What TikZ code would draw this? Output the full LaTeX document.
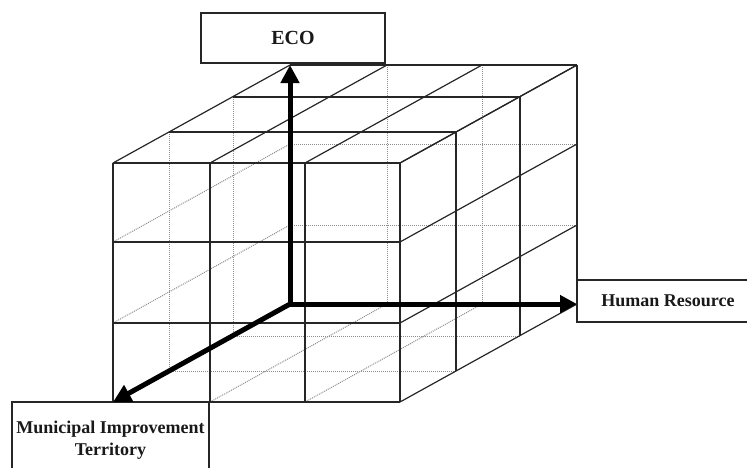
\documentclass[tikz,border=0pt]{standalone}
\usepackage{fontspec}
\setmainfont{Liberation Serif}
\usetikzlibrary{arrows.meta}
\begin{document}
\begin{tikzpicture}[x=1pt,y=-1pt,
  edge/.style={draw=black!85,line width=1.2pt},
  hidden/.style={draw=black!45,line width=1pt,densely dotted},
  axisline/.style={draw=black,line width=5pt,line join=miter},
  tip/.style={Triangle[length=18pt,width=18pt]},
  box/.style={draw=black!85,line width=1.2pt,fill=white,inner sep=0pt,text=black!90}]
\useasboundingbox (0,0) rectangle (747,467);
\clip (0,0) rectangle (747,467);
% lattice points p<i><j><k>: column i, row j (from top), depth k
\foreach \i/\xx in {0/113,1/210,2/305,3/400}{
  \foreach \j/\yy in {0/163,1/242,2/323,3/402}{
    \foreach \k/\dx/\dy in {0/0/0,1/56/-31,2/120/-66,3/177/-98}{
      \coordinate (p\i\j\k) at (\xx+\dx,\yy+\dy);
    }}}
% hidden lines
\foreach \k in {1,2} \draw[hidden] (p00\k) -- (p03\k);
\foreach \j in {1,2} \draw[hidden] (p0\j0) -- (p0\j3);
\foreach \i in {1,2} \draw[hidden] (p\i03) -- (p\i33);
\foreach \j in {1,2} \draw[hidden] (p0\j3) -- (p3\j3);
\foreach \i in {1,2} \draw[hidden] (p\i30) -- (p\i33);
\foreach \k in {1,2} \draw[hidden] (p03\k) -- (p33\k);
% visible lines
\foreach \i in {0,...,3} \draw[edge] (p\i00) -- (p\i30);
\foreach \j in {0,...,3} \draw[edge] (p0\j0) -- (p3\j0);
\foreach \i in {0,...,3} \draw[edge] (p\i00) -- (p\i03);
\foreach \k in {0,...,3} \draw[edge] (p00\k) -- (p30\k);
\foreach \k in {0,...,3} \draw[edge] (p30\k) -- (p33\k);
\foreach \j in {0,...,3} \draw[edge] (p3\j0) -- (p3\j3);
% label boxes
\node[box,minimum width=184pt,minimum height=50pt,font=\fontsize{20}{24}\selectfont\bfseries] (eco) at (293,38) {ECO};
\node[box,minimum width=182pt,minimum height=42pt,font=\fontsize{18}{22}\selectfont\bfseries] (hr) at (668,301) {Human Resource};
\node[box,minimum width=197pt,minimum height=76pt,align=center,font=\fontsize{18}{22}\selectfont\bfseries] (mit) at (110.5,440) {Municipal Improvement\\Territory};
% axes
\coordinate (O) at (p033);
\draw[axisline,{Triangle[length=18pt,width=18pt]}-{Triangle[length=17pt,width=17pt]}] (p003) -- (O) -- (p333);
\draw[axisline,-{Triangle[length=18pt,width=18pt]}] (O) -- (p030);
\end{tikzpicture}
\end{document}
